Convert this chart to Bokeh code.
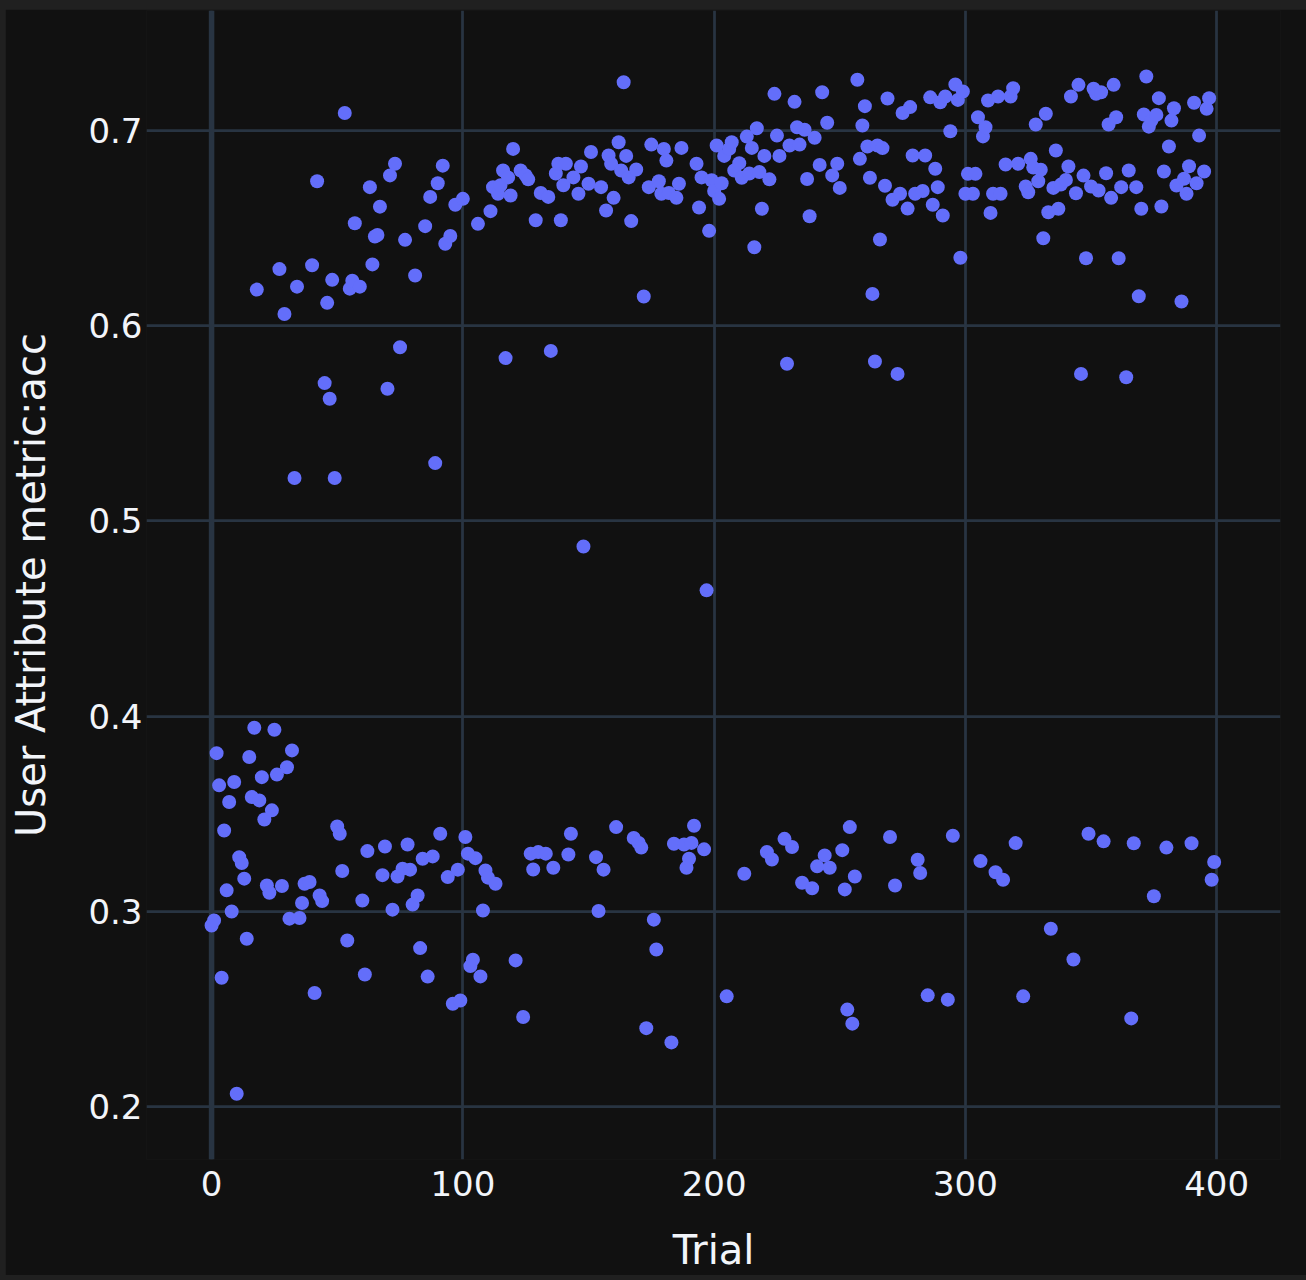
from bokeh.plotting import figure
from bokeh.models import FixedTicker, Span, ColumnDataSource
from bokeh.embed import file_html
from bokeh.resources import INLINE

trial = [0,1,2,3,4,5,6,7,8,9,10,11,12,13,14,15,16,17,18,19,20,21,22,23,24,25,26,27,28,29,
         30,31,32,33,34,35,36,37,39,40,41,42,43,44,45,46,47,48,49,50,51,52,53,54,55,56,57,59,60,
         61,62,63,64,65,66,67,68,69,70,71,72,73,74,75,76,77,78,79,80,81,82,83,84,85,86,87,88,89,90,
         91,92,93,94,95,96,97,98,99,100,101,102,103,104,105,106,107,108,109,110,111,112,113,114,115,
         116,117,118,119,120,121,123,124,125,126,127,128,129,130,131,133,134,135,136,137,138,139,140,
         141,142,143,144,146,147,148,150,151,153,154,155,156,157,158,159,160,161,162,163,164,165,166,
         167,168,169,170,171,172,173,174,175,176,177,178,179,180,181,182,183,184,185,186,187,188,189,
         190,191,192,193,194,195,196,197,198,199,200,201,202,203,204,205,206,207,208,210,211,212,213,
         214,215,216,217,218,219,220,221,222,223,224,225,226,228,229,230,231,232,233,234,235,236,237,
         238,239,240,241,242,243,244,245,246,247,249,250,251,252,253,254,255,256,257,258,259,260,261,
         262,263,264,265,266,267,268,269,270,271,272,273,274,275,277,278,279,280,281,282,283,284,285,
         286,287,288,289,290,291,292,293,294,295,296,297,298,299,300,301,303,304,305,306,307,308,309,
         310,311,312,313,314,315,316,318,319,320,321,323,324,325,326,327,328,329,330,331,332,333,334,
         335,336,337,338,340,341,342,343,344,345,346,347,348,349,350,351,352,353,354,355,356,357,358,
         359,360,361,362,364,365,366,367,368,369,370,371,372,373,374,375,376,377,378,379,380,381,382,
         383,384,386,387,388,389,390,391,392,393,395,396,397,398,399]

acc = [0.2927,0.2953,0.381,0.3645,0.2659,0.3414,0.3107,0.356,0.2999,0.3662,0.2065,0.3277,0.3247,
       0.3167,0.2859,0.379,0.3585,0.394,0.6185,0.3568,0.3687,0.347,0.3132,0.3095,0.3517,0.393,0.370,
       0.629,0.3129,0.606,0.3738,0.2962,0.3824,0.522,0.620,0.2965,0.3042,0.3141,0.315,0.631,0.2581,
       0.674,0.3081,0.3052,0.5706,0.6117,0.5626,0.6235,0.522,0.3434,0.3397,0.3206,0.709,0.285,0.619,
       0.623,0.6525,0.620,0.3055,0.2676,0.3308,0.671,0.6314,0.6457,0.6465,0.661,0.3185,0.3332,0.5677,
       0.677,0.3008,0.683,0.3178,0.589,0.3218,0.644,0.3342,0.3213,0.3034,0.6257,0.3081,0.2811,0.3269,
       0.651,0.2665,0.666,0.3281,0.5296,0.673,0.3397,0.682,0.642,0.3175,0.646,0.2526,0.662,0.3213,
       0.2543,0.665,0.338,0.3295,0.2719,0.2752,0.3272,0.6522,0.2666,0.3004,0.3209,0.3172,0.6587,0.671,
       0.3141,0.6676,0.672,0.6795,0.5834,0.676,0.6667,0.6906,0.2748,0.6795,0.2458,0.677,0.675,0.3295,
       0.3214,0.654,0.3303,0.668,0.3295,0.666,0.5871,0.3223,0.678,0.683,0.654,0.672,0.683,0.3291,
       0.3397,0.676,0.6676,0.6816,0.4869,0.6727,0.689,0.3277,0.3001,0.671,0.3213,0.659,0.6872,0.683,
       0.6655,0.3431,0.694,0.6795,0.7247,0.687,0.676,0.6536,0.3375,0.680,0.335,0.3326,0.615,0.2401,
       0.671,0.6928,0.2957,0.2804,0.674,0.6676,0.6906,0.6846,0.668,0.2328,0.3346,0.6655,0.6727,0.6911,
       0.3342,0.3223,0.3269,0.335,0.3438,0.683,0.6606,0.676,0.3317,0.4644,0.6486,0.6745,0.669,0.6923,
       0.665,0.673,0.687,0.2564,0.6906,0.694,0.6795,0.6833,0.6758,0.3192,0.6969,0.678,0.6911,0.6402,
       0.7012,0.6787,0.6599,0.687,0.3303,0.675,0.3265,0.7188,0.6974,0.687,0.3371,0.5805,0.6923,0.3329,
       0.7147,0.7017,0.6928,0.3146,0.7004,0.6752,0.6561,0.3118,0.6963,0.323,0.6824,0.7196,0.3286,0.704,
       0.3223,0.677,0.683,0.6706,0.3313,0.3112,0.2496,0.3431,0.2424,0.3178,0.726,0.6855,0.7026,0.7125,
       0.6918,0.6758,0.6163,0.5817,0.6923,0.6442,0.691,0.6717,0.7164,0.338,0.6645,0.3132,0.5753,0.6676,
       0.709,0.66,0.712,0.6872,0.6676,0.3264,0.3196,0.669,0.6872,0.2569,0.717,0.662,0.6804,0.671,0.7145,
       0.6565,0.7174,0.2547,0.6996,0.3387,0.7236,0.7157,0.6348,0.72,0.6676,0.6778,0.6676,0.6778,0.7068,
       0.3257,0.697,0.7017,0.7154,0.6578,0.6676,0.32,0.7174,0.6676,0.3161,0.6826,0.7174,0.7217,0.3349,
       0.683,0.2564,0.6713,0.6684,0.6855,0.681,0.7031,0.674,0.6799,0.6448,0.7086,0.6581,0.291,0.6706,
       0.6898,0.6599,0.6723,0.6747,0.6816,0.7174,0.2753,0.6679,0.7234,0.5753,0.6769,0.6346,0.3397,
       0.6713,0.7214,0.7188,0.6693,0.7196,0.3358,0.6781,0.7031,0.6655,0.7234,0.7068,0.6346,0.671,
       0.5736,0.6795,0.2451,0.3348,0.671,0.6151,0.6599,0.7082,0.7277,0.702,0.7051,0.3077,0.708,0.7166,
       0.6611,0.679,0.3326,0.6918,0.7051,0.7114,0.6718,0.6124,0.6753,0.6676,0.6817,0.3348,0.7142,0.673,
       0.6974,0.679,0.7111,0.7166,0.3161,0.3252]

x_ticks = [0, 100, 200, 300, 400]
y_ticks = [0.2, 0.3, 0.4, 0.5, 0.6, 0.7]
y_tick_labels = ["0.2", "0.3", "0.4", "0.5", "0.6", "0.7"]

BG = "#111111"
GRID = "#283442"
TXT = "#f2f5fa"
FONT = "DejaVu Sans"

p = figure(frame_width=1134, frame_height=1149,
           x_range=(-25.9, 425.4), y_range=(0.1728, 0.7615),
           output_backend="svg", toolbar_location=None,
           background_fill_color=BG, border_fill_color=BG,
           min_border_left=141, min_border_right=26,
           min_border_top=1, min_border_bottom=113)
p.outline_line_color = None

src = ColumnDataSource(dict(trial=trial, acc=acc))
p.scatter("trial", "acc", source=src, size=14, fill_color="#636efa",
          line_color=None)

zero = Span(location=0, dimension="height", line_color=GRID, line_width=5.5,
            level="underlay")
p.add_layout(zero)

for ax in (p.xaxis, p.yaxis):
    ax.axis_line_color = None
    ax.major_tick_line_color = None
    ax.minor_tick_line_color = None
    ax.major_tick_out = 0
    ax.major_tick_in = 0
    ax.major_label_text_color = TXT
    ax.major_label_text_font = FONT
    ax.major_label_text_font_size = "34px"
    ax.axis_label_text_color = TXT
    ax.axis_label_text_font = FONT
    ax.axis_label_text_font_size = "40px"
    ax.axis_label_text_font_style = "normal"

p.xaxis.ticker = FixedTicker(ticks=x_ticks)
p.yaxis.ticker = FixedTicker(ticks=y_ticks)
p.yaxis.major_label_overrides = {t: l for t, l in zip(y_ticks, y_tick_labels)}
p.xaxis.axis_label = "Trial"
p.yaxis.axis_label = "User Attribute metric:acc"
p.xaxis.major_label_standoff = 11
p.yaxis.major_label_standoff = 4
p.xaxis.axis_label_standoff = 28
p.yaxis.axis_label_standoff = 31

p.xgrid.ticker = FixedTicker(ticks=x_ticks)
p.ygrid.ticker = FixedTicker(ticks=y_ticks)
for g in (p.xgrid, p.ygrid):
    g.grid_line_color = GRID
    g.grid_line_width = 2.75

html = file_html(p, INLINE)
style = ("<style>html,body{background:#202020 !important;}"
         "body{padding:9px 0 0 5px !important;}</style>")
html = html.replace("</head>", style + "</head>", 1)
open("out.html", "w").write(html)
